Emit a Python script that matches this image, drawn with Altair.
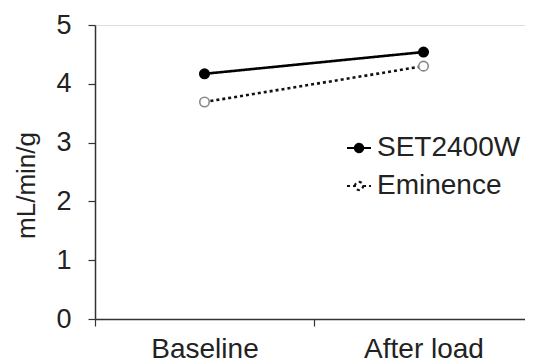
import altair as alt
import pandas as pd

categories = ["Baseline", "After load"]
series_names = ["SET2400W", "Eminence"]
set2400w = [4.17, 4.54]
eminence = [3.69, 4.30]

rows = []
for s, vals in zip(series_names, [set2400w, eminence]):
    for c, v in zip(categories, vals):
        rows.append({"cond": c, "series": s, "value": v})
df = pd.DataFrame(rows)

FONT = "Liberation Sans"
FS = 28
sym = "M-1,0L-0.34,0M0.34,0L1,0M-0.34,0A0.34,0.34,0,1,1,0.34,0A0.34,0.34,0,1,1,-0.34,0Z"

x = alt.X("cond:N", sort=categories, title=None,
          scale=alt.Scale(paddingInner=0, paddingOuter=0, range=[0, 438]),
          axis=alt.Axis(tickBand="extent", labelAngle=0, labelFontSize=FS,
                        labelFont=FONT, labelColor="#222", labelPadding=9,
                        tickSize=7, tickColor="#333", domainColor="#333",
                        domainWidth=1.5, tickWidth=1.2))
y = alt.Y("value:Q", title="mL/min/g",
          scale=alt.Scale(domain=[0, 5], nice=False),
          axis=alt.Axis(values=[0, 1, 2, 3, 4, 5], labelFontSize=27, labelFont=FONT,
                        labelColor="#222", titleFont=FONT, titleFontSize=26,
                        titleFontWeight="normal", titleColor="#222", tickSize=7,
                        labelPadding=17, titlePadding=16, titleY=160, tickColor="#333",
                        domainColor="#333", domainWidth=1.5, tickWidth=1.2, grid=False))

legend = alt.Legend(title=None, orient="none", legendX=250, legendY=109,
                    symbolType=sym, symbolSize=576, symbolStrokeWidth=2.2,
                    labelFont=FONT, labelFontSize=FS, labelColor="#222",
                    rowPadding=10, labelOffset=4)

color = alt.Color("series:N", sort=series_names,
                  scale=alt.Scale(domain=series_names, range=["#000000", "#111111"]),
                  legend=legend)
dash = alt.StrokeDash("series:N", sort=series_names,
                      scale=alt.Scale(domain=series_names, range=[[1, 0], [3, 3]]),
                      legend=legend)
fill = alt.Fill("series:N", sort=series_names,
                scale=alt.Scale(domain=series_names, range=["#000000", "#ffffff"]),
                legend=legend)
pstroke = alt.Stroke("series:N", sort=series_names,
                     scale=alt.Scale(domain=series_names, range=["#000000", "#888888"]),
                     legend=None)

lines = alt.Chart(df).mark_line(strokeWidth=2.6).encode(x=x, y=y, color=color, strokeDash=dash)
points = alt.Chart(df).mark_point(size=90, opacity=1, strokeWidth=1.6, filled=False).encode(
    x=x, y=y, fill=fill, stroke=pstroke)

chart = alt.layer(lines, points).properties(
    width=430, height=294,
    autosize=alt.AutoSizeParams(type="none"),
    padding={"left": 87, "top": 17, "right": 0, "bottom": 45},
).configure_view(stroke=None).configure(background="white")

chart.save("out.html", embed_options={"renderer": "svg", "actions": False})
